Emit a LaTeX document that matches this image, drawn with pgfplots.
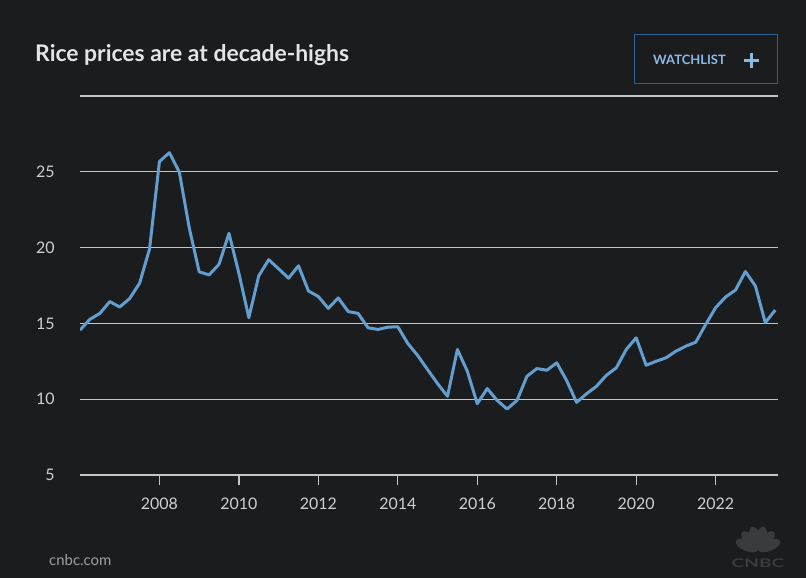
\documentclass[border=0pt]{standalone}
\usepackage{fontspec}
\setmainfont{Lato}
\usepackage{pgfplots}
\pgfplotsset{compat=1.18}
\definecolor{bg}{HTML}{1B1C1E}
\definecolor{gridc}{HTML}{C4C4C4}
\definecolor{txt}{HTML}{D0D0D0}
\definecolor{ttl}{HTML}{E4E4E4}
\definecolor{linec}{RGB}{98,158,208}
\definecolor{wl}{HTML}{8CB8E6}
\definecolor{wlbox}{HTML}{2D5F99}
\definecolor{logo}{HTML}{3A3B3D}
\definecolor{foot}{HTML}{A0A0A0}
\begin{document}
\begin{tikzpicture}[x=1bp,y=1bp]
\fill[bg] (0,0) rectangle (806,578);
\node[anchor=base west, inner sep=0, text=ttl] at (35,516) {\fontsize{23}{27}\selectfont\bfseries Rice prices are at decade-highs};
\draw[wlbox, line width=1bp] (634.5,494) rectangle (777.5,543);
\node[anchor=base west, inner sep=0, text=wl] at (653,513) {\fontsize{13}{15}\selectfont\bfseries WATCHLIST};
\draw[wl, line width=2.4bp] (744,517.5) -- (759,517.5) (751.5,510) -- (751.5,525);
\node[anchor=base west, inner sep=0, text=foot] at (49,12) {\fontsize{15}{17}\selectfont cnbc.com};
\begin{scope}[shift={(758,28)}]
\foreach \a in {22,49,76,104,131,158} {
  \fill[logo, rotate=\a] (12,0) ellipse [x radius=12, y radius=5.5];
}
\end{scope}
\node[anchor=base, inner sep=0, text=logo] at (758,10) {\scalebox{1.6}[1]{\fontsize{12}{12}\selectfont\bfseries CNBC}};
\begin{axis}[
  at={(80bp,103bp)}, anchor=south west, scale only axis,
  width=698bp, height=379bp,
  xmin=2006, xmax=2023.57, ymin=5, ymax=30,
  axis line style={draw=none},
  ytick={5,10,15,20,25,30}, yticklabels={5,10,15,20,25,},
  ymajorgrids, grid style={gridc, line width=1.2bp},
  ytick style={draw=none},
  xtick={2008,2010,2012,2014,2016,2018,2020,2022},
  xticklabels={2008,2010,2012,2014,2016,2018,2020,2022},
  xtick pos=bottom, tick align=outside, major tick length=10bp,
  xtick style={gridc, line width=1.2bp},
  ticklabel style={font=\fontsize{16}{18}\selectfont, text=txt},
  xticklabel style={yshift=-9bp},
  yticklabel style={xshift=-12bp},
  /pgf/number format/assume math mode=true,
]
\addplot[linec, line width=3bp, line join=round, mark=none] coordinates {
(2006.00,14.56) (2006.25,15.27) (2006.50,15.66) (2006.75,16.44)
(2007.00,16.08) (2007.25,16.64) (2007.50,17.65) (2007.75,19.90)
(2008.00,25.68) (2008.25,26.26) (2008.50,24.98) (2008.75,21.30)
(2009.00,18.40) (2009.25,18.20) (2009.50,18.90) (2009.75,20.94)
(2010.00,18.30) (2010.25,15.38) (2010.50,18.14) (2010.75,19.20)
(2011.00,18.60) (2011.25,17.98) (2011.50,18.80) (2011.75,17.14)
(2012.00,16.77) (2012.25,15.99) (2012.50,16.68) (2012.75,15.78)
(2013.00,15.66) (2013.25,14.71) (2013.50,14.60) (2013.75,14.75)
(2014.00,14.78) (2014.25,13.68) (2014.50,12.88) (2014.75,11.95)
(2015.00,11.03) (2015.25,10.19) (2015.50,13.28) (2015.75,11.84)
(2016.00,9.70) (2016.25,10.70) (2016.50,9.92) (2016.75,9.35)
(2017.00,9.92) (2017.25,11.51) (2017.50,12.02) (2017.75,11.91)
(2018.00,12.40) (2018.25,11.23) (2018.50,9.79) (2018.75,10.36)
(2019.00,10.85) (2019.25,11.58) (2019.50,12.07) (2019.75,13.28)
(2020.00,14.05) (2020.25,12.24) (2020.50,12.50) (2020.75,12.73)
(2021.00,13.17) (2021.25,13.50) (2021.50,13.76) (2021.75,14.93)
(2022.00,16.04) (2022.25,16.74) (2022.50,17.20) (2022.75,18.42)
(2023.00,17.47) (2023.25,15.05) (2023.50,15.88)
};
\end{axis}
\end{tikzpicture}
\end{document}
